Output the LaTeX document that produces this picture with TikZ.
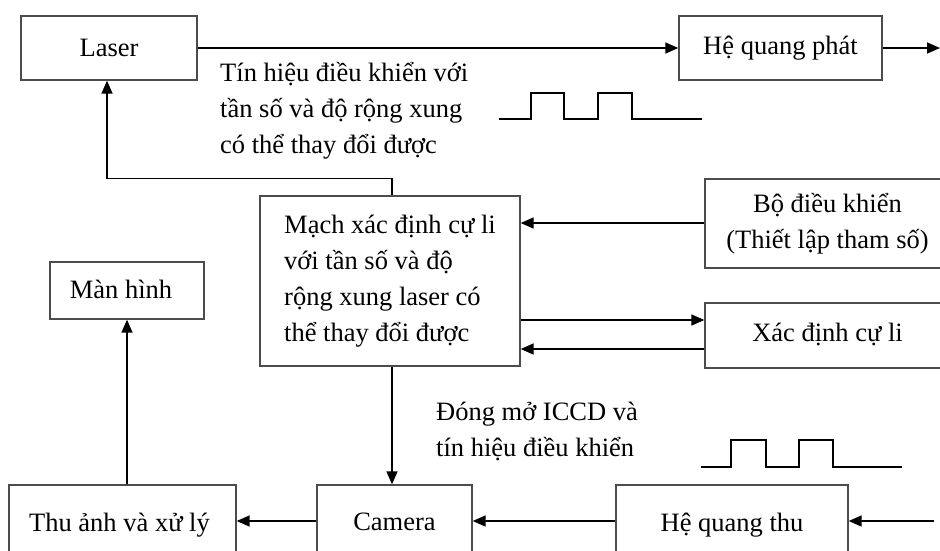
\documentclass[tikz,border=0pt]{standalone}
\usepackage{fontspec}
\setmainfont{Liberation Serif}
\usetikzlibrary{arrows.meta,calc}
\begin{document}
\begin{tikzpicture}[x=1pt,y=-1pt,
  every node/.style={font=\fontsize{26.5}{36}\selectfont},
  blk/.style={draw=black!70, line width=1.4pt, inner sep=0pt, minimum width=#1},
  conn/.style={line width=1.6pt, -{Triangle[length=13pt,width=11pt]}},
  wire/.style={line width=1.6pt},
  lbl/.style={anchor=west, align=left, inner sep=0pt}]
\useasboundingbox (0,0) rectangle (940,550);
% boxes
\node[blk=176pt, minimum height=64pt] (laser) at (109,48) {Laser};
\node[blk=203pt, minimum height=64pt] (phat) at (780.5,48) {\raisebox{4pt}{Hệ quang phát}};
\node[blk=260pt, minimum height=170pt, align=left] (mach) at (390,281)
  {Mạch xác định cự li\\với tần số và độ\\rộng xung laser có\\thể thay đổi được};
\node[blk=245pt, minimum height=89pt, align=center] (bdk) at (827.5,223.5) {Bộ điều khiển\\(Thiết lập tham số)};
\node[blk=245pt, minimum height=65pt] (xac) at (827.5,335.5) {\raisebox{6pt}{Xác định cự li}};
\node[blk=154pt, minimum height=57pt] (man) at (127,290.5) {\hspace*{-12pt}\raisebox{3pt}{Màn hình}};
\node[blk=227pt, minimum height=80pt] (thu) at (122.5,525) {\hspace*{-6pt}\raisebox{6pt}{Thu ảnh và xử lý}};
\node[blk=155pt, minimum height=80pt] (cam) at (394.5,525) {\raisebox{6pt}{Camera}};
\node[blk=232pt, minimum height=80pt] (thuq) at (732,525) {\raisebox{6pt}{Hệ quang thu}};
% free ends
\coordinate (out1) at (940,48);
\coordinate (in1) at (934,521);
% labels
\node[lbl] (sig1) at (220,111) {Tín hiệu điều khiển với\\tần số và độ rộng xung\\có thể thay đổi được};
\node[lbl] (sig2) at (436,431.5) {Đóng mở ICCD và\\tín hiệu điều khiển};
% connectors
\draw[conn] (laser.east) -- (phat.west);
\draw[conn] (phat.east) -- (out1);
\draw[conn] ($(mach.north)+(2,0)$) -- ++(0,-17) -| ($(laser.south)+(-2,0)$);
\draw[conn] ($(bdk.west)+(0,-0.5)$) -- ($(bdk.west -| mach.east)+(0,-0.5)$);
\draw[conn] ($(mach.east |- xac.west)+(0,-15.5)$) -- ($(xac.west)+(0,-15.5)$);
\draw[conn] ($(xac.west)+(0,13.5)$) -- ($(mach.east |- xac.west)+(0,13.5)$);
\draw[conn] ($(mach.south)+(2,0)$) -- ($(mach.south |- cam.north)+(2,0)$);
\draw[conn] ($(thuq.west)+(0,-4)$) -- ($(cam.east)+(0,-4)$);
\draw[conn] ($(cam.west)+(0,-4)$) -- ($(thu.east)+(0,-4)$);
\draw[conn] (in1) -- (in1 -| thuq.east);
\draw[conn] (man.south |- thu.north) -- (man.south);
% pulses
\draw[wire] (499,119) -- (531,119) -- (531,93) -- (564,93) -- (564,119) -- (598,119) -- (598,93) -- (632,93) -- (632,119) -- (702,119);
\draw[wire] (701,467) -- (731,467) -- (731,440) -- (766,440) -- (766,467) -- (799,467) -- (799,440) -- (833,440) -- (833,467) -- (902,467);
\end{tikzpicture}
\end{document}
